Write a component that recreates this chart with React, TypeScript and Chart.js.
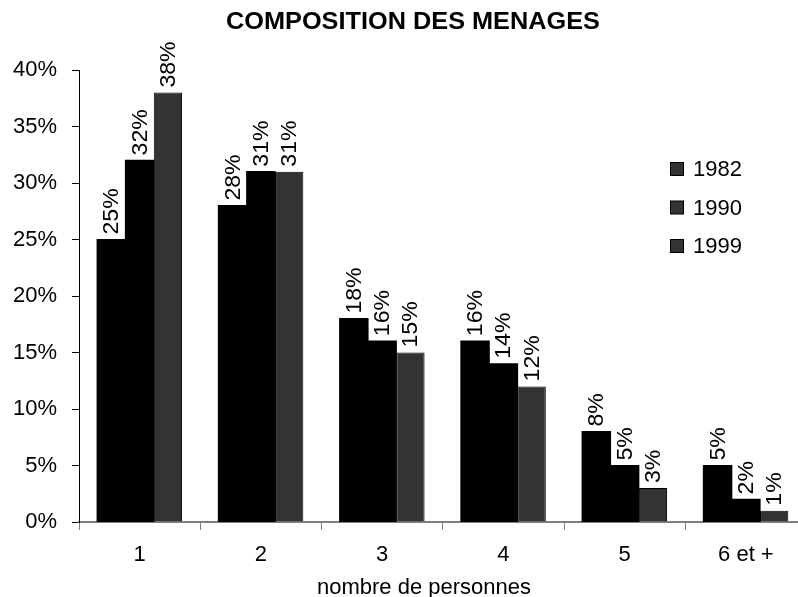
import React, { useEffect, useRef } from "react";
import { Chart, registerables } from "chart.js";

Chart.register(...registerables);

// Household size categories and share of households per census year (%)
const categories = ["1", "2", "3", "4", "5", "6 et +"];
const years = ["1982", "1990", "1999"];
const values1982 = [25, 28, 18, 16, 8, 5];
const values1990 = [32, 31, 16, 14, 5, 2];
const values1999 = [38, 31, 15, 12, 3, 1];
const yTicks = [0, 5, 10, 15, 20, 25, 30, 35, 40];

const chartTitle = "COMPOSITION DES MENAGES";
const xAxisTitle = "nombre de personnes";

const FONT = "'Liberation Sans', Arial, sans-serif";
const barColors = ["#000000", "#000000", "#333333"];
const legendSwatch = "#333333";

// Rotated percentage labels above each bar
const valueLabels = {
  id: "valueLabels",
  afterDatasetsDraw(chart: any) {
    const ctx = chart.ctx;
    ctx.save();
    ctx.fillStyle = "#000";
    ctx.font = `22px ${FONT}`;
    ctx.textAlign = "left";
    ctx.textBaseline = "middle";
    chart.data.datasets.forEach((ds: any, di: number) => {
      const meta = chart.getDatasetMeta(di);
      meta.data.forEach((bar: any, i: number) => {
        ctx.save();
        ctx.translate(bar.x, bar.y - 5);
        ctx.rotate(-Math.PI / 2);
        ctx.scale(1.05, 1);
        ctx.fillText(`${ds.data[i]}%`, 0, 1);
        ctx.restore();
      });
    });
    ctx.restore();
  },
};

// Title, axis title and legend
const decorations = {
  id: "decorations",
  afterDraw(chart: any) {
    const ctx = chart.ctx;
    ctx.save();
    ctx.fillStyle = "#000";

    ctx.save();
    ctx.translate(413, 29);
    ctx.scale(1.1, 1);
    ctx.font = `bold 23px ${FONT}`;
    ctx.textAlign = "center";
    ctx.textBaseline = "alphabetic";
    ctx.fillText(chartTitle, 0, 0);
    ctx.restore();

    ctx.font = `22px ${FONT}`;
    ctx.textAlign = "center";
    ctx.textBaseline = "alphabetic";
    ctx.fillText(xAxisTitle, 424, 594);

    ctx.textAlign = "left";
    ctx.textBaseline = "middle";
    chart.data.datasets.forEach((ds: any, i: number) => {
      const cy = 169 + i * 38.5;
      ctx.fillStyle = legendSwatch;
      ctx.fillRect(670.5, cy - 6.5, 13, 13);
      ctx.strokeStyle = "#000";
      ctx.lineWidth = 1;
      ctx.strokeRect(670.5, cy - 6.5, 13, 13);
      ctx.fillStyle = "#000";
      ctx.fillText(ds.label, 693, cy + 1);
    });
    ctx.restore();
  },
};

export default function App() {
  const ref = useRef<HTMLCanvasElement | null>(null);

  useEffect(() => {
    if (!ref.current) return;
    const series = [values1982, values1990, values1999];
    const chart = new Chart(ref.current, {
      type: "bar",
      data: {
        labels: categories,
        datasets: years.map((y, i) => ({
          label: y,
          data: series[i],
          backgroundColor: barColors[i],
          borderColor: "#000000",
          borderWidth: i === 2 ? 1 : 0,
          inflateAmount: i === 2 ? 0 : 0.6,
          categoryPercentage: 0.7,
          barPercentage: 1,
        })),
      },
      options: {
        animation: false,
        responsive: false,
        devicePixelRatio: 1,
        layout: { padding: { top: 70, bottom: 35, left: 0, right: 3.5 } },
        plugins: {
          legend: { display: false },
          title: { display: false },
          tooltip: { enabled: false },
        },
        scales: {
          x: {
            afterFit: (s: any) => {
              s.height = 40;
            },
            grid: {
              display: true,
              drawOnChartArea: false,
              drawTicks: true,
              tickLength: 8,
              color: "#808080",
              offset: true,
            },
            border: { display: true, color: "#808080", width: 2 },
            ticks: {
              color: "#000",
              font: { family: FONT, size: 22 },
              padding: 12,
              maxRotation: 0,
            },
          },
          y: {
            min: 0,
            max: 40,
            afterFit: (s: any) => {
              s.width = 79;
            },
            afterBuildTicks: (s: any) => {
              s.ticks = yTicks.map((v) => ({ value: v }));
            },
            grid: {
              display: true,
              drawOnChartArea: false,
              drawTicks: true,
              tickLength: 7,
              color: "#000000",
            },
            border: { display: true, color: "#000000", width: 1 },
            ticks: {
              color: "#000",
              font: { family: FONT, size: 22 },
              padding: 15,
              callback: (v: any) => `${v}%`,
            },
          },
        },
      },
      plugins: [valueLabels, decorations],
    });
    return () => chart.destroy();
  }, []);

  return (
    <div
      style={{
        position: "fixed",
        left: 0,
        top: 0,
        width: 798,
        height: 597,
        overflow: "hidden",
        background: "#fff",
      }}
    >
      <canvas ref={ref} width={810} height={597} style={{ width: 810, height: 597, display: "block" }} />
    </div>
  );
}
